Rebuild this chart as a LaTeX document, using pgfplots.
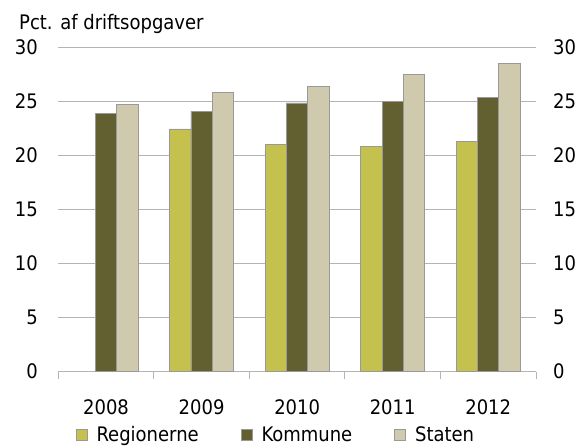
\documentclass[border=0pt]{standalone}
\usepackage{fontspec}
\setmainfont{DejaVu Sans Condensed}
\usepackage{pgfplots}
\pgfplotsset{compat=1.18}
\definecolor{reg}{HTML}{C5C14F}
\definecolor{kom}{HTML}{625F30}
\definecolor{sta}{HTML}{CFCAAD}
\definecolor{gridc}{HTML}{B4B4B4}
\definecolor{barb}{HTML}{999999}
\begin{document}
\fontsize{20}{24}\selectfont
\begin{tikzpicture}
\useasboundingbox (-58.3pt,-73.3pt) rectangle (520.7pt,371.7pt);
\pgfplotsset{
  common/.style={
    at={(0pt,0pt)}, anchor=south west,
    scale only axis, width=477.7pt, height=324.4pt,
    xmin=-0.5, xmax=4.5, ymin=0, ymax=30,
    ytick={0,5,...,30},
    axis line style={draw=none},
    ytick style={draw=none},
    tick label style={font=\fontsize{20}{24}\selectfont},
    /pgf/number format/assume math mode=true,
  }
}
\begin{axis}[common,
  ybar=0pt, bar width=0.223,
  ymajorgrids, grid style={gridc, line width=0.9pt},
  xtick={0,1,2,3,4},
  xticklabels={2008,2009,2010,2011,2012},
  major x tick style={draw=none},
  minor xtick={-0.5,0.5,1.5,2.5,3.5,4.5},
  minor x tick style={gridc, line width=0.9pt},
  minor tick length=7pt,
  tick align=outside,
  xtick pos=bottom,
  yticklabel pos=left,
  xticklabel style={inner sep=0pt, yshift=-23pt},
  yticklabel style={inner sep=0pt, xshift=-16pt},
  legend columns=-1,
  legend style={at={(0.030,-0.197)}, anchor=west, draw=none, fill=none,
    font=\fontsize{20}{24}\selectfont,
    nodes={inner sep=0pt},
    /tikz/every even column/.append style={column sep=42pt},
    /tikz/every odd column/.append style={column sep=9pt}},
  legend image code/.code={\draw[#1, draw=barb, line width=0.8pt] (0pt,-5pt) rectangle (11pt,6pt);},
]
\addplot[fill=reg, draw=barb, line width=0.8pt] coordinates {(1,22.45) (2,21.0) (3,20.86) (4,21.3)};
\addplot[fill=kom, draw=barb, line width=0.8pt] coordinates {(0,23.87) (1,24.1) (2,24.85) (3,24.97) (4,25.34)};
\addplot[fill=sta, draw=barb, line width=0.8pt] coordinates {(0,24.7) (1,25.8) (2,26.35) (3,27.45) (4,28.5)};
\legend{Regionerne,Kommune,Staten}
\end{axis}
\begin{axis}[common,
  xtick=\empty,
  yticklabel pos=right,
  yticklabel style={inner sep=0pt, xshift=17pt},
]
\addplot[draw=none] coordinates {(0,0)};
\end{axis}
\node[anchor=base west, inner sep=0pt] at (-39.3pt,342.4pt) {Pct. af driftsopgaver};
\end{tikzpicture}
\end{document}
